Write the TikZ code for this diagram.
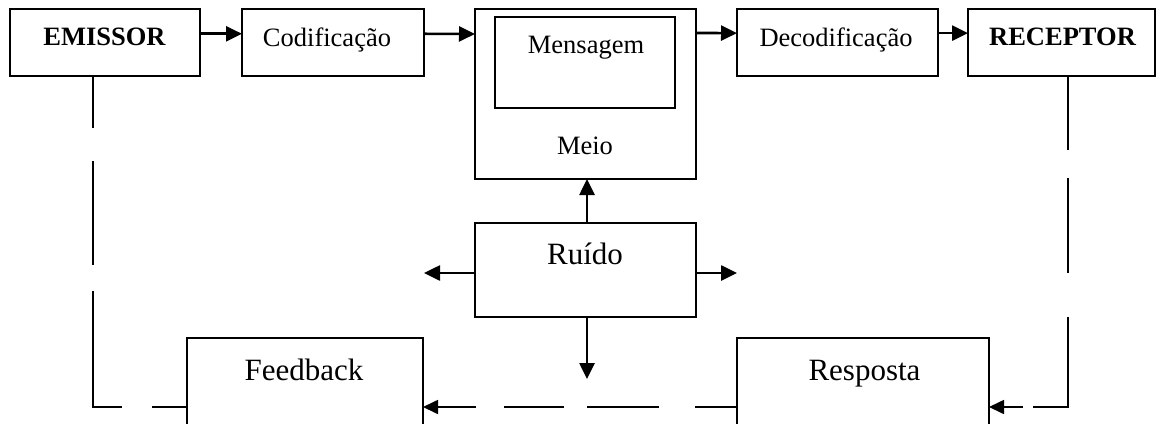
\documentclass[tikz,border=0pt]{standalone}
\usepackage{fontspec}
\setmainfont{Liberation Serif}
\usetikzlibrary{arrows.meta,calc}
\begin{document}
\begin{tikzpicture}[x=1pt,y=-1pt,
  box/.style={draw,line width=1.7pt,rectangle,inner sep=0pt,outer sep=0pt,minimum height=67pt},
  lbl/.style={anchor=base,inner sep=0pt,font=\fontsize{26.5}{30}\selectfont},
  biglbl/.style={anchor=base,inner sep=0pt,font=\fontsize{31}{36}\selectfont},
  arr/.style={line width=2.6pt,-{Triangle[length=16pt,width=15pt]}},
  fb/.style={line width=1.7pt},
  fbarr/.style={line width=1.7pt,-{Triangle[length=15pt,width=14pt]}}]
\useasboundingbox (0,0) rectangle (1156,423);
\clip (0,0) rectangle (1156,423);
% boxes
\node[box,minimum width=190pt] (emi) at (105,42.5) {};
\node[box,minimum width=182pt] (cod) at (333,42.5) {};
\node[box,minimum width=221pt,minimum height=170pt] (meio) at (585.5,94) {};
\node[box,minimum width=180pt,minimum height=91pt] (msg) at (585,62.5) {};
\node[box,minimum width=201pt] (dec) at (837.5,42.5) {};
\node[box,minimum width=187pt] (rec) at (1061.5,42.5) {};
\node[box,minimum width=221pt,minimum height=94pt] (ruido) at (585.5,270) {};
\node[box,minimum width=236pt,minimum height=112pt] (feed) at (305,394) {};
\node[box,minimum width=252pt,minimum height=112pt] (resp) at (863,394) {};
% texts
\node[lbl,font=\fontsize{26.5}{30}\selectfont\bfseries] (temi) at (104.5,45) {EMISSOR};
\node[lbl] (tcod) at (327,46) {Codificação};
\node[lbl] (tmsg) at (586,53) {Mensagem};
\node[lbl] (tmeio) at (585,154) {Meio};
\node[lbl] (tdec) at (836,46) {Decodificação};
\node[lbl,font=\fontsize{26.5}{30}\selectfont\bfseries] (trec) at (1062.5,45) {RECEPTOR};
\node[biglbl] (truido) at (585,264) {Ruído};
\node[biglbl] (tfeed) at (304,380) {Feedback};
\node[biglbl] (tresp) at (864.5,380) {Resposta};
% top arrows
\draw[arr] ($(emi.north east)!.37!(emi.south east)$) -- ($(cod.north west)!.37!(cod.south west)$);
\draw[arr] ($(cod.north east)!.37!(cod.south east)$) -- ($(meio.north west)!.147!(meio.south west)$);
\draw[arr] ($(meio.north east)!.141!(meio.south east)$) -- ($(dec.north west)!.36!(dec.south west)$);
\draw[arr] ($(dec.north east)!.36!(dec.south east)$) -- ($(rec.north west)!.36!(rec.south west)$);
% noise arrows
\coordinate (nl) at (424,273);
\coordinate (nr) at (737,273);
\coordinate (nd) at (587,379);
\coordinate (nu) at (587,0);
\draw[arr] (nu |- ruido.north) -- (nu |- meio.south);
\draw[arr] (ruido.west |- nl) -- (nl);
\draw[arr] (ruido.east |- nr) -- (nr);
\draw[arr] (nd |- ruido.south) -- (nd);
% feedback loop
\coordinate (rx) at (1068,407);
\coordinate (lx) at (93,407);
\draw[fbarr,dash pattern=on 74pt off 28pt on 95pt off 44pt on 125pt off 10pt on 200pt]
  (rx |- rec.south) -- (rx) -- (resp.east |- rx);
\draw[fbarr,dash pattern=on 42pt off 36pt on 72pt off 23pt on 60pt off 28pt on 200pt]
  (resp.west |- rx) -- (feed.east |- rx);
\draw[fb,dash pattern=on 52pt off 33pt on 104pt off 26pt on 145pt off 30pt on 100pt]
  (lx |- emi.south) -- (lx) -- (feed.west |- lx);
\end{tikzpicture}
\end{document}
